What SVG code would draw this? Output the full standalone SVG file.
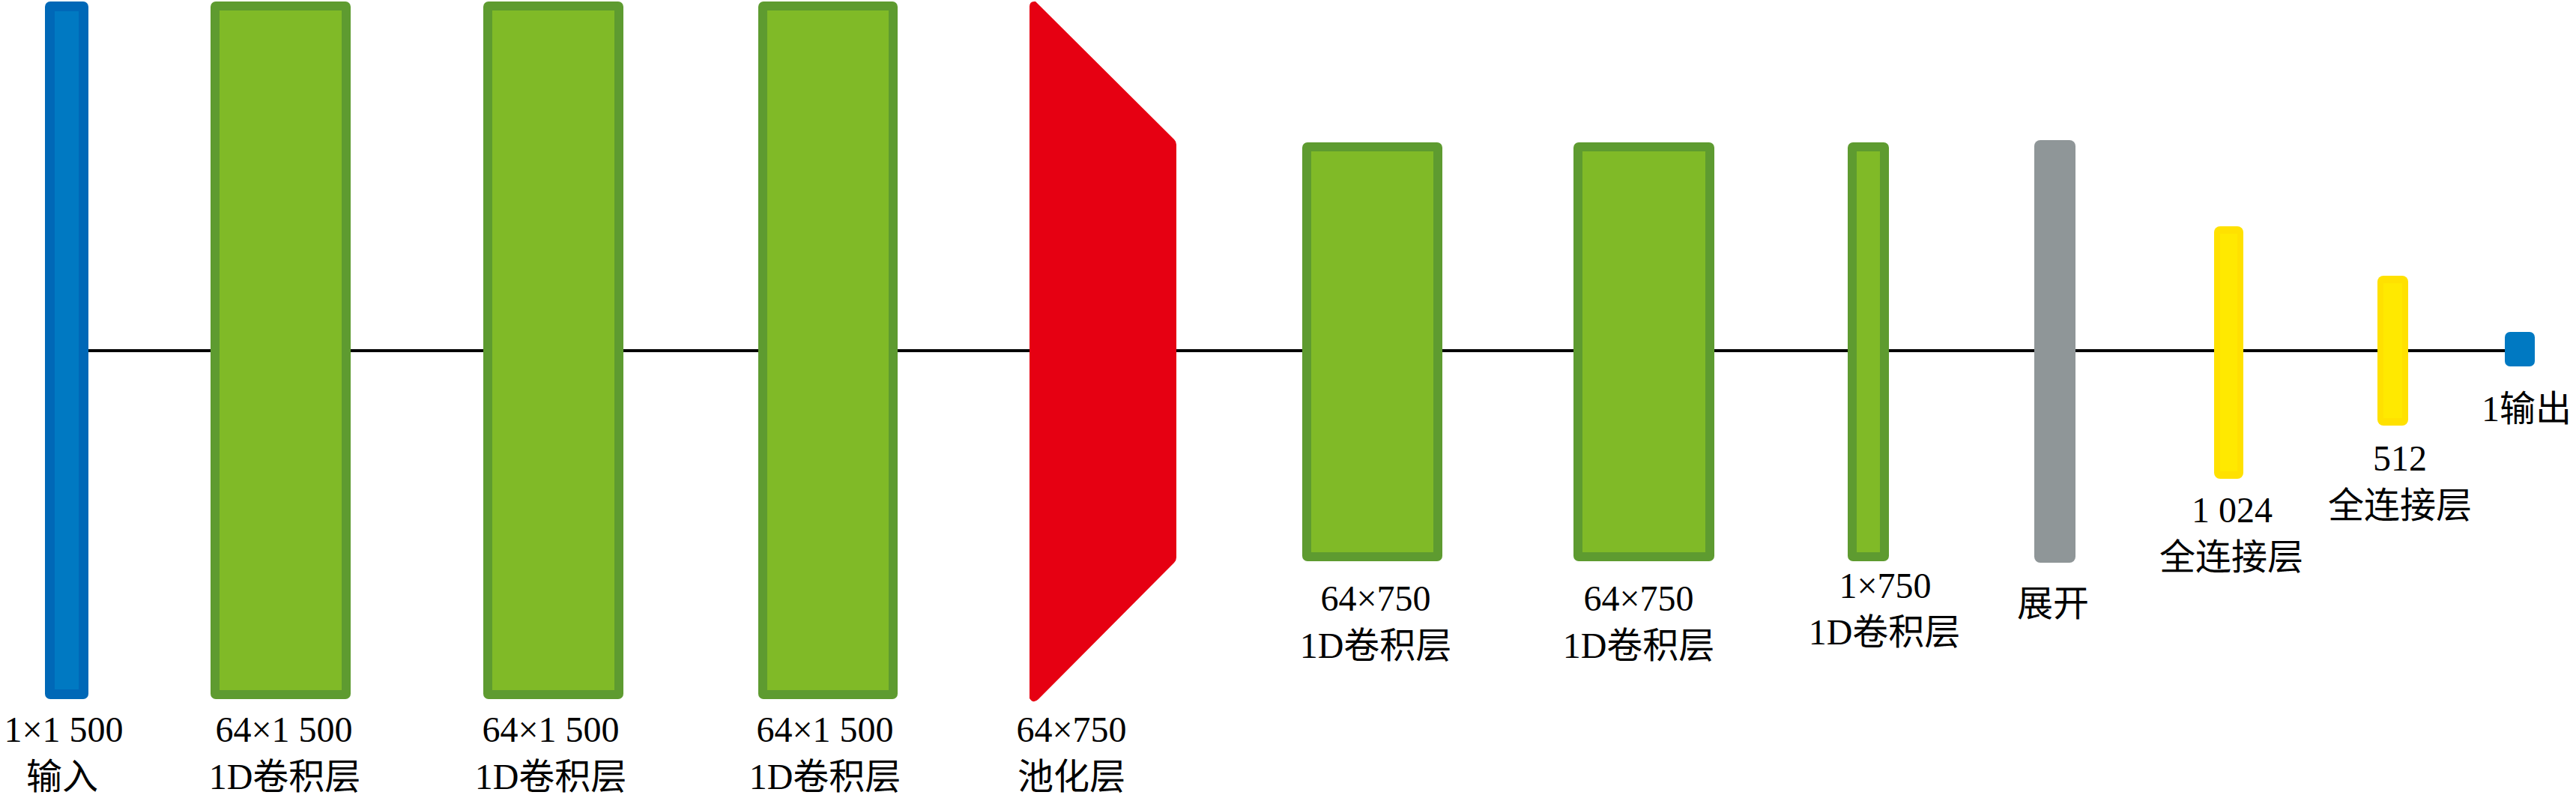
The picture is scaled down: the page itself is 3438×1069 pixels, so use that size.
<svg xmlns="http://www.w3.org/2000/svg" width="3438" height="1069" viewBox="0 0 3438 1069">
<style>
.lbl{font-family:"Liberation Serif","Noto Sans CJK SC",serif;font-size:48px;fill:#000;text-anchor:middle}
.conn{stroke:#000;stroke-width:4;fill:none}
.bb{fill:#0068B7}.bi{fill:#0079C2}
.gb{fill:#5E9B30}.gi{fill:#80BA27}
.yb{fill:#FFE100}.yi{fill:#FFE900}
.gray{fill:#8F9698}
.red{fill:#E60012}
</style>
<rect width="3438" height="1069" fill="#fff"/>
<g id="connectors">
<line class="conn" x1="118" y1="468" x2="281" y2="468"/>
<line class="conn" x1="468" y1="468" x2="645" y2="468"/>
<line class="conn" x1="832" y1="468" x2="1012" y2="468"/>
<line class="conn" x1="1198" y1="468" x2="1374" y2="468"/>
<line class="conn" x1="1570" y1="468" x2="1738" y2="468"/>
<line class="conn" x1="1925" y1="468" x2="2100" y2="468"/>
<line class="conn" x1="2288" y1="468" x2="2466" y2="468"/>
<line class="conn" x1="2521" y1="468" x2="2715" y2="468"/>
<line class="conn" x1="2770" y1="468" x2="2955" y2="468"/>
<line class="conn" x1="2994" y1="468" x2="3173" y2="468"/>
<line class="conn" x1="3214" y1="468" x2="3343" y2="468"/>
</g>
<g id="input">
<rect class="bb" x="60" y="2" width="58" height="931" rx="7"/>
<rect class="bi" x="73" y="15" width="32" height="905"/>
<text class="lbl" x="85" y="990">1×1 500</text>
<text class="lbl" x="83" y="1053">输入</text>
</g>
<g id="conv1">
<rect class="gb" x="281" y="2" width="187" height="931" rx="7"/>
<rect class="gi" x="293" y="14" width="163" height="907"/>
<text class="lbl" x="379" y="990">64×1 500</text>
<text class="lbl" x="380" y="1053">1D卷积层</text>
</g>
<g id="conv2">
<rect class="gb" x="645" y="2" width="187" height="931" rx="7"/>
<rect class="gi" x="657" y="14" width="163" height="907"/>
<text class="lbl" x="735" y="990">64×1 500</text>
<text class="lbl" x="735" y="1053">1D卷积层</text>
</g>
<g id="conv3">
<rect class="gb" x="1012" y="2" width="186" height="931" rx="7"/>
<rect class="gi" x="1024" y="14" width="162" height="907"/>
<text class="lbl" x="1101" y="990">64×1 500</text>
<text class="lbl" x="1101" y="1053">1D卷积层</text>
</g>
<g id="pool">
<path class="red" d="M1374,9 Q1374,1 1382,2 L1567,186 Q1570,189 1570,193 L1570,744 Q1570,748 1567,751 L1386,933 Q1379,940 1374,932 Z"/>
<text class="lbl" x="1430" y="990">64×750</text>
<text class="lbl" x="1430" y="1053">池化层</text>
</g>
<g id="conv4">
<rect class="gb" x="1738" y="190" width="187" height="559" rx="7"/>
<rect class="gi" x="1750" y="202" width="163" height="535"/>
<text class="lbl" x="1836" y="815">64×750</text>
<text class="lbl" x="1836" y="878">1D卷积层</text>
</g>
<g id="conv5">
<rect class="gb" x="2100" y="190" width="188" height="559" rx="7"/>
<rect class="gi" x="2112" y="202" width="164" height="535"/>
<text class="lbl" x="2187" y="815">64×750</text>
<text class="lbl" x="2187" y="878">1D卷积层</text>
</g>
<g id="conv6">
<rect class="gb" x="2466" y="190" width="55" height="559" rx="7"/>
<rect class="gi" x="2478" y="202" width="31" height="535"/>
<text class="lbl" x="2516" y="798">1×750</text>
<text class="lbl" x="2515" y="860">1D卷积层</text>
</g>
<g id="flatten">
<rect class="gray" x="2715" y="187" width="55" height="564" rx="8"/>
<text class="lbl" x="2740" y="822">展开</text>
</g>
<g id="fc1">
<rect class="yb" x="2955" y="302" width="39" height="337" rx="8"/>
<rect class="yi" x="2963" y="312" width="23" height="317"/>
<text class="lbl" x="2979" y="697">1 024</text>
<text class="lbl" x="2978" y="760">全连接层</text>
</g>
<g id="fc2">
<rect class="yb" x="3173" y="368" width="41" height="200" rx="8"/>
<rect class="yi" x="3181" y="378" width="25" height="180"/>
<text class="lbl" x="3203" y="628">512</text>
<text class="lbl" x="3203" y="691">全连接层</text>
</g>
<g id="output">
<rect class="bi" x="3343" y="443" width="40" height="46" rx="7"/>
<text class="lbl" x="3372" y="562">1输出</text>
</g>
</svg>
